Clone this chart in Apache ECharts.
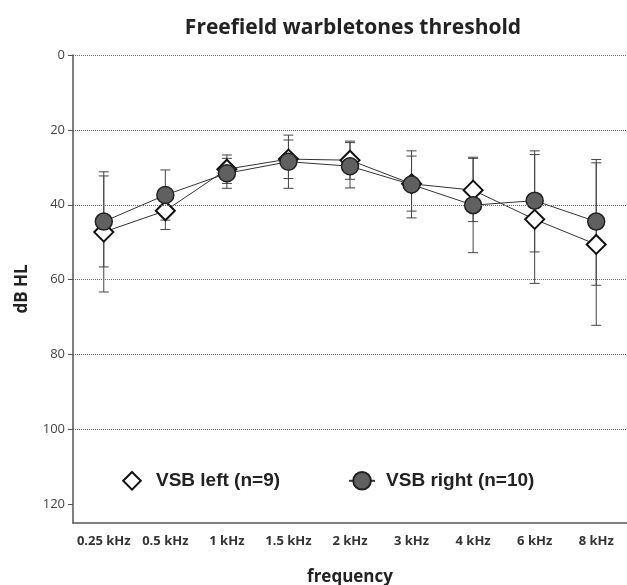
<!DOCTYPE html>
<html>
<head>
<meta charset="utf-8">
<script src="https://cdn.jsdelivr.net/npm/echarts@6/dist/echarts.min.js"></script>
<style>
  html, body { margin: 0; padding: 0; background: #fff; }
  #chart { width: 627px; height: 585px; }
</style>
</head>
<body>
<div id="chart"></div>
<script>
const freqs = ['0.25 kHz', '0.5 kHz', '1 kHz', '1.5 kHz', '2 kHz', '3 kHz', '4 kHz', '6 kHz', '8 kHz'];
const yTicks = [0, 20, 40, 60, 80, 100, 120];
const gridValues = [0, 20, 40, 60, 80, 100];

// VSB left (diamonds): mean, lower and upper end of the error bar
const leftMean = [47.3, 41.6, 30.5, 27.8, 28.1, 34.4, 36.1, 43.9, 50.6];
const leftLow = [31.2, 36.6, 26.7, 22.7, 23.0, 27.0, 27.6, 25.6, 28.8];
const leftHigh = [63.3, 46.6, 34.3, 33.0, 33.2, 41.7, 44.5, 61.0, 72.2];

// VSB right (circles)
const rightMean = [44.5, 37.4, 31.6, 28.5, 29.7, 34.6, 40.1, 38.9, 44.5];
const rightLow = [32.3, 30.7, 27.6, 21.4, 23.4, 25.6, 27.3, 26.6, 27.9];
const rightHigh = [56.6, 44.1, 35.6, 35.6, 35.5, 43.5, 52.8, 52.6, 61.5];

const myChart = echarts.init(document.getElementById('chart'));

function errorData(low, high) {
  return low.map((v, i) => [i, v, high[i]]);
}

function renderError(params, api) {
  const lo = api.coord([api.value(0), api.value(1)]);
  const hi = api.coord([api.value(0), api.value(2)]);
  const w = 5;
  const style = { stroke: '#444', lineWidth: 1 };
  return {
    type: 'group',
    children: [
      { type: 'line', shape: { x1: lo[0], y1: lo[1], x2: hi[0], y2: hi[1] }, style },
      { type: 'line', shape: { x1: lo[0] - w, y1: lo[1], x2: lo[0] + w, y2: lo[1] }, style },
      { type: 'line', shape: { x1: hi[0] - w, y1: hi[1], x2: hi[0] + w, y2: hi[1] }, style },
    ],
  };
}

const option = {
  animation: false,
  textStyle: { fontFamily: 'Open Sans' },
  title: {
    text: 'Freefield warbletones threshold',
    left: 348,
    top: 13,
    textAlign: 'center',
    textStyle: { fontFamily: 'Open Sans', fontWeight: 'bold', fontSize: 21, color: '#222' },
  },
  legend: {
    left: 113,
    top: 466,
    itemWidth: 26,
    itemHeight: 22,
    itemGap: 68,
    textStyle: { fontFamily: 'Liberation Sans', fontWeight: 'bold', fontSize: 19, color: '#222', padding: [0, 0, 0, 6] },
    data: [
      { name: 'VSB left (n=9)', lineStyle: { opacity: 0 } },
      { name: 'VSB right (n=10)' },
    ],
  },
  grid: { left: 73, right: 0, top: 55, bottom: 62, outerBoundsMode: 'none' },
  xAxis: {
    type: 'category',
    data: freqs,
    boundaryGap: true,
    name: 'frequency',
    nameLocation: 'middle',
    nameGap: 46,
    nameTextStyle: { fontFamily: 'Open Sans', fontWeight: 'bold', fontSize: 17, color: '#222' },
    axisLine: { onZero: false, lineStyle: { color: '#555', width: 1.5 } },
    axisTick: { alignWithLabel: true, length: 5, lineStyle: { color: '#555' } },
    axisLabel: { interval: 0, margin: 12, fontFamily: 'Open Sans', fontWeight: 'bold', fontSize: 13, color: '#333' },
    splitLine: { show: false },
  },
  yAxis: {
    type: 'value',
    inverse: true,
    min: 0,
    max: 125,
    interval: 20,
    name: 'dB HL',
    nameLocation: 'middle',
    nameGap: 42,
    nameTextStyle: { fontFamily: 'Open Sans', fontWeight: 'bold', fontSize: 17, color: '#222' },
    axisLine: { show: true, lineStyle: { color: '#555', width: 1.5 } },
    axisTick: { show: true, length: 5, customValues: yTicks, lineStyle: { color: '#555' } },
    axisLabel: { margin: 8, customValues: yTicks, fontFamily: 'Open Sans', fontSize: 13, color: '#444' },
    splitLine: { show: false },
  },
  series: [
    {
      name: 'VSB left (n=9) err',
      type: 'custom',
      renderItem: renderError,
      data: errorData(leftLow, leftHigh),
      z: 1,
      silent: true,
    },
    {
      name: 'VSB right (n=10) err',
      type: 'custom',
      renderItem: renderError,
      data: errorData(rightLow, rightHigh),
      z: 1,
      silent: true,
      markLine: {
        silent: true,
        symbol: 'none',
        label: { show: false },
        lineStyle: { type: 'dotted', color: '#666', width: 1 },
        data: gridValues.map((v) => ({ yAxis: v })),
      },
    },
    {
      name: 'VSB left (n=9)',
      type: 'line',
      data: leftMean,
      symbol: 'diamond',
      symbolSize: 19,
      z: 3,
      lineStyle: { color: '#333', width: 1 },
      itemStyle: { color: '#fff', borderColor: '#111', borderWidth: 2 },
    },
    {
      name: 'VSB right (n=10)',
      type: 'line',
      data: rightMean,
      symbol: 'circle',
      symbolSize: 17,
      z: 4,
      lineStyle: { color: '#333', width: 1 },
      itemStyle: { color: '#606060', borderColor: '#222', borderWidth: 1.5 },
    },
  ],
};

myChart.setOption(option);
</script>
</body>
</html>
